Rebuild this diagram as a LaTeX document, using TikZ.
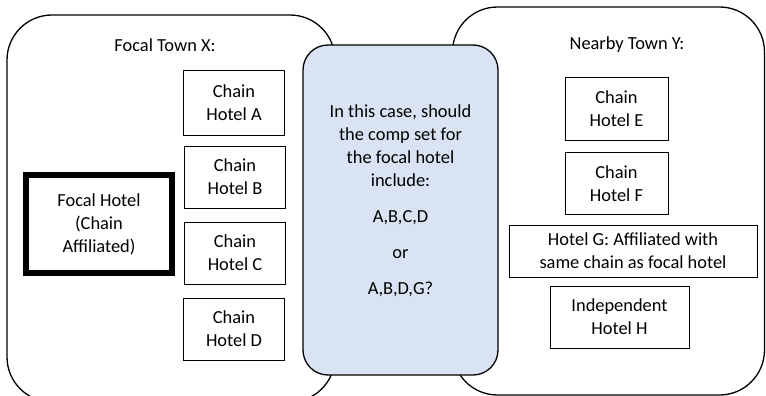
\documentclass[tikz,border=0pt]{standalone}
\usepackage{fontspec}
\setmainfont{Carlito}
\usepackage{tikz}

\definecolor{qblue}{RGB}{218,227,243}

\tikzset{
  town/.style={draw,line width=1.3pt,rounded corners=45pt},
  hotel/.style={draw,line width=1pt,align=center,minimum width=101pt,minimum height=62pt,inner sep=2pt},
  focal/.style={draw,line width=6.5pt,align=center,minimum width=146pt,minimum height=98pt},
}

\begin{document}
\begin{tikzpicture}[x=1pt,y=-1pt,font=\fontsize{18.4}{23}\selectfont]
\useasboundingbox (0,0) rectangle (766,396);

% the two towns
\node[town,minimum width=328pt,minimum height=387pt] (X) at (171,208.5) {};
\node[town,minimum width=312pt,minimum height=388pt] (Y) at (608.5,201) {};
\node (Xlab) at (165,45) {Focal Town X:};
\node (Ylab) at (627,45) {Nearby Town Y:};

% the question
\node[draw,line width=1.3pt,fill=qblue,rounded corners=25pt,minimum width=195pt,minimum height=330pt] (Q) at (400.5,210) {};
\node[align=center] (q) at (400.5,201) {In this case, should\\the comp set for\\the focal hotel\\include:\\[13pt]A,B,C,D\\[13pt]or\\[13pt]A,B,D,G?};

% focal town
\node[focal] (F0) at (99,224) {Focal Hotel\\(Chain\\Affiliated)};
\node[hotel,minimum height=65pt] (A) at (234,103) {Chain\\Hotel A};
\node[hotel] (B) at (235,177) {Chain\\Hotel B};
\node[hotel] (C) at (235,253) {Chain\\Hotel C};
\node[hotel] (D) at (234,329) {Chain\\Hotel D};

% nearby town
\node[hotel,minimum width=103pt] (E) at (616.5,109) {Chain\\Hotel E};
\node[hotel,minimum width=103pt] (F) at (616.5,183.5) {Chain\\Hotel F};
\node[hotel,minimum width=248pt,minimum height=52pt] (G) at (633,251) {Hotel G: Affiliated with\\same chain as focal hotel};
\node[hotel,minimum width=139pt] (H) at (619.5,317) {Independent\\Hotel H};
\end{tikzpicture}
\end{document}
